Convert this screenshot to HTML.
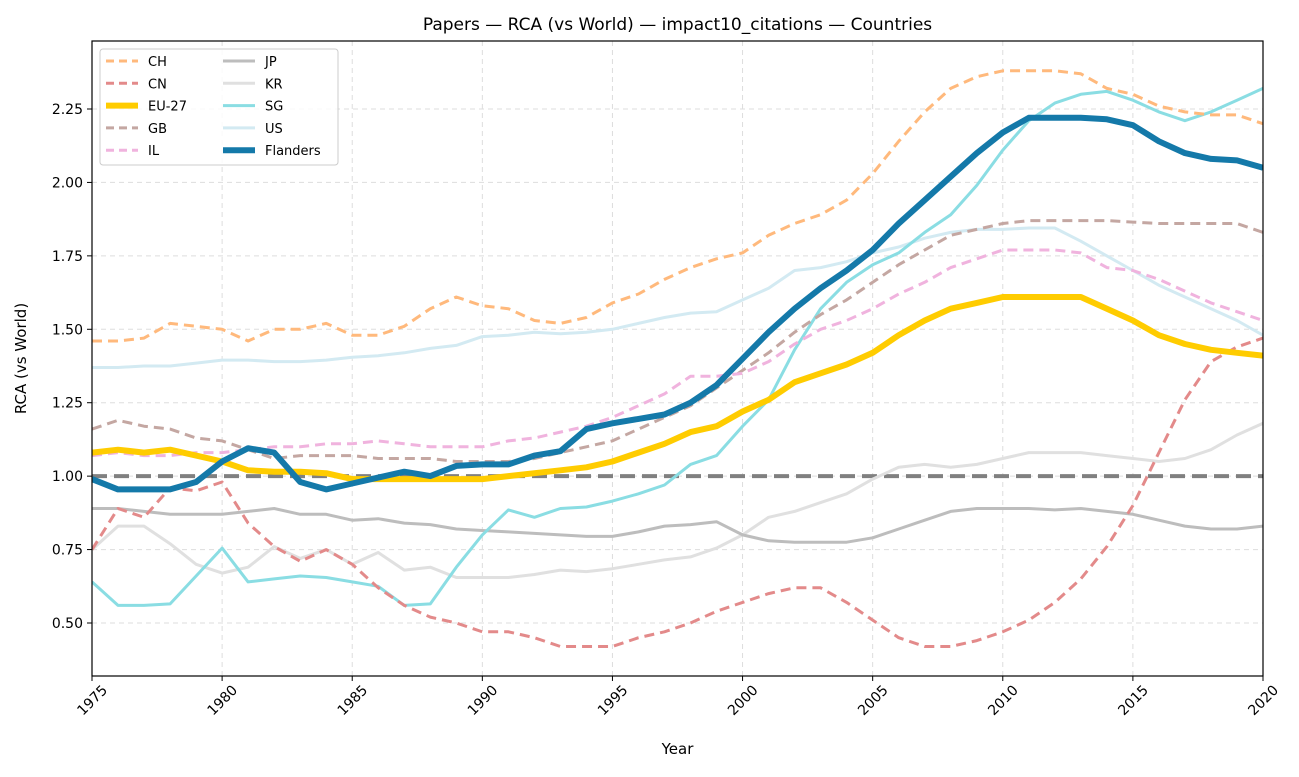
<!DOCTYPE html>
<html><head><meta charset="utf-8"><style>
body{margin:0;background:#fff;font-family:"Liberation Sans","DejaVu Sans",sans-serif}
</style></head><body>
<svg id="chart" width="1299" height="772" xmlns="http://www.w3.org/2000/svg" font-family="DejaVu Sans, Liberation Sans, sans-serif"></svg>
<script>
const years = Array.from({length:46},(_,i)=>1975+i);
const xTicks = [1975,1980,1985,1990,1995,2000,2005,2010,2015,2020];
const yTicks = [0.50,0.75,1.00,1.25,1.50,1.75,2.00,2.25];
const CH = [1.46,1.46,1.47,1.52,1.51,1.50,1.46,1.50,1.50,1.52,1.48,1.48,1.51,1.57,1.61,1.58,1.57,1.53,1.52,1.54,1.59,1.62,1.67,1.71,1.74,1.76,1.82,1.86,1.89,1.94,2.03,2.14,2.24,2.32,2.36,2.38,2.38,2.38,2.37,2.32,2.30,2.26,2.24,2.23,2.23,2.20];
const CN = [0.75,0.89,0.86,0.96,0.95,0.98,0.84,0.76,0.71,0.75,0.70,0.62,0.56,0.52,0.50,0.47,0.47,0.45,0.42,0.42,0.42,0.45,0.47,0.50,0.54,0.57,0.60,0.62,0.62,0.57,0.51,0.45,0.42,0.42,0.44,0.47,0.51,0.57,0.65,0.76,0.90,1.08,1.26,1.39,1.44,1.47];
const EU27 = [1.08,1.09,1.08,1.09,1.07,1.05,1.02,1.015,1.015,1.01,0.99,0.99,0.99,0.99,0.99,0.99,1.00,1.01,1.02,1.03,1.05,1.08,1.11,1.15,1.17,1.22,1.26,1.32,1.35,1.38,1.42,1.48,1.53,1.57,1.59,1.61,1.61,1.61,1.61,1.57,1.53,1.48,1.45,1.43,1.42,1.41];
const GB = [1.16,1.19,1.17,1.16,1.13,1.12,1.09,1.06,1.07,1.07,1.07,1.06,1.06,1.06,1.05,1.05,1.05,1.06,1.08,1.10,1.12,1.16,1.20,1.24,1.30,1.36,1.42,1.49,1.55,1.60,1.66,1.72,1.77,1.82,1.84,1.86,1.87,1.87,1.87,1.87,1.865,1.86,1.86,1.86,1.86,1.83];
const IL = [1.07,1.08,1.07,1.07,1.08,1.08,1.09,1.10,1.10,1.11,1.11,1.12,1.11,1.10,1.10,1.10,1.12,1.13,1.15,1.17,1.20,1.24,1.28,1.34,1.34,1.35,1.39,1.45,1.50,1.53,1.57,1.62,1.66,1.71,1.74,1.77,1.77,1.77,1.76,1.71,1.70,1.67,1.63,1.59,1.56,1.53];
const JP = [0.89,0.89,0.88,0.87,0.87,0.87,0.88,0.89,0.87,0.87,0.85,0.855,0.84,0.835,0.82,0.815,0.81,0.805,0.80,0.795,0.795,0.81,0.83,0.835,0.845,0.80,0.78,0.775,0.775,0.775,0.79,0.82,0.85,0.88,0.89,0.89,0.89,0.885,0.89,0.88,0.87,0.85,0.83,0.82,0.82,0.83];
const KR = [0.75,0.83,0.83,0.77,0.70,0.67,0.69,0.76,0.72,0.75,0.70,0.74,0.68,0.69,0.655,0.655,0.655,0.665,0.68,0.675,0.685,0.70,0.715,0.725,0.755,0.80,0.86,0.88,0.91,0.94,0.99,1.03,1.04,1.03,1.04,1.06,1.08,1.08,1.08,1.07,1.06,1.05,1.06,1.09,1.14,1.18];
const SG = [0.64,0.56,0.56,0.565,0.66,0.755,0.64,0.65,0.66,0.655,0.64,0.625,0.56,0.565,0.69,0.80,0.885,0.86,0.89,0.895,0.915,0.94,0.97,1.04,1.07,1.17,1.26,1.43,1.57,1.66,1.72,1.76,1.83,1.89,1.99,2.11,2.21,2.27,2.30,2.31,2.28,2.24,2.21,2.24,2.28,2.32];
const US = [1.37,1.37,1.375,1.375,1.385,1.395,1.395,1.39,1.39,1.395,1.405,1.41,1.42,1.435,1.445,1.475,1.48,1.49,1.485,1.49,1.50,1.52,1.54,1.555,1.56,1.60,1.64,1.70,1.71,1.73,1.76,1.78,1.81,1.83,1.84,1.84,1.845,1.845,1.80,1.75,1.70,1.65,1.61,1.57,1.53,1.48];
const Flanders = [0.99,0.955,0.955,0.955,0.98,1.05,1.095,1.08,0.98,0.955,0.975,0.995,1.015,1.00,1.035,1.04,1.04,1.07,1.085,1.16,1.18,1.195,1.21,1.25,1.31,1.40,1.49,1.57,1.64,1.70,1.77,1.86,1.94,2.02,2.10,2.17,2.22,2.22,2.22,2.215,2.195,2.14,2.10,2.08,2.075,2.05];

const NS="http://www.w3.org/2000/svg";
const svg=document.getElementById('chart');
const L=92,R=1263,T=41,B=676;
const x=y=>L+(y-1975)*(R-L)/45;
const yv=v=>623-(v-0.5)*(623-109)/1.75;
function mk(tag,attrs,parent){const e=document.createElementNS(NS,tag);for(const k in attrs)e.setAttribute(k,attrs[k]);(parent||svg).appendChild(e);return e;}
function txt(s,attrs,parent){const e=mk('text',attrs,parent);e.textContent=s;return e;}

const grid=mk('g',{});


xTicks.forEach(t=>mk('line',{x1:x(t),x2:x(t),y1:T,y2:B,stroke:'#ddd','stroke-dasharray':'5,4','stroke-width':1},grid));
yTicks.forEach(t=>mk('line',{x1:L,x2:R,y1:yv(t),y2:yv(t),stroke:'#ddd','stroke-dasharray':'5,4','stroke-width':1},grid));

const ref=mk('line',{x1:L,x2:R,y1:yv(1),y2:yv(1),stroke:'#808080','stroke-width':4,'stroke-dasharray':'15,7'});



const series=[
 ['CH',CH,'#ffb97c',3,true],
 ['CN',CN,'#e38a8a',3,true],
 ['EU-27',EU27,'#ffcc00',6,false],
 ['GB',GB,'#c4a7a2',3,true],
 ['IL',IL,'#f0b3de',3,true],
 ['JP',JP,'#bdbdbd',3,false],
 ['KR',KR,'#e0e0e0',3,false],
 ['SG',SG,'#8adde3',3,false],
 ['US',US,'#d3eaf2',3,false],
 ['Flanders',Flanders,'#1479a9',6,false]
];
const order=['KR','US','JP','SG','CH','CN','GB','IL','EU-27','Flanders'];
const clip=mk('clipPath',{id:'pc'});mk('rect',{x:L,y:T,width:R-L,height:B-T},clip);
order.forEach(n=>{
 const s=series.find(q=>q[0]===n);
 const d=s[1].map((v,i)=>(i?'L':'M')+x(years[i]).toFixed(1)+','+yv(v).toFixed(1)).join('');
 const p=mk('path',{d:d,fill:'none',stroke:s[2],'stroke-width':s[3],'stroke-linejoin':'round','clip-path':'url(#pc)'});
 if(s[4])p.setAttribute('stroke-dasharray','10,6');
 
 
});

const fr=mk('rect',{x:L,y:T,width:R-L,height:B-T,fill:'none',stroke:'#000','stroke-width':1.2});



xTicks.forEach(t=>{
 mk('line',{x1:x(t),x2:x(t),y1:B,y2:B+5,stroke:'#000'});
 const cx=x(t), cy=B+24;
 const e=txt(String(t),{x:cx,y:cy+5,'font-size':14,'text-anchor':'middle',transform:`rotate(-45 ${cx} ${cy})`});
 
 
});
yTicks.forEach(t=>{
 mk('line',{x1:L-5,x2:L,y1:yv(t),y2:yv(t),stroke:'#000'});
 const e=txt(t.toFixed(2),{x:L-9,y:yv(t)+5,'font-size':14,'text-anchor':'end'});
 
 
});
const tt=txt('Papers — RCA (vs World) — impact10_citations — Countries',{x:(L+R)/2,y:30,'font-size':17,'text-anchor':'middle'});


const xt=txt('Year',{x:(L+R)/2,y:754,'font-size':15,'text-anchor':'middle'});


const yt=txt('RCA (vs World)',{x:26,y:(T+B)/2,'font-size':15,'text-anchor':'middle',transform:`rotate(-90 26 ${(T+B)/2})`});



const lg=mk('g',{});


mk('rect',{x:100,y:49,width:238,height:116,rx:3,fill:'#fff','fill-opacity':0.85,stroke:'#ccc'},lg);
series.forEach((s,i)=>{
 const col=i<5?0:1,row=i%5;
 const lx=col?221:104, ly=61+row*22.3;
 const ln=mk('line',{x1:lx+2,x2:lx+34,y1:ly,y2:ly,stroke:s[2],'stroke-width':s[3]},lg);
 if(s[4])ln.setAttribute('stroke-dasharray','8,5');
 const e=txt(s[0],{x:lx+44,y:ly+5,'font-size':13},lg);
 
 
});
</script>
</body></html>
